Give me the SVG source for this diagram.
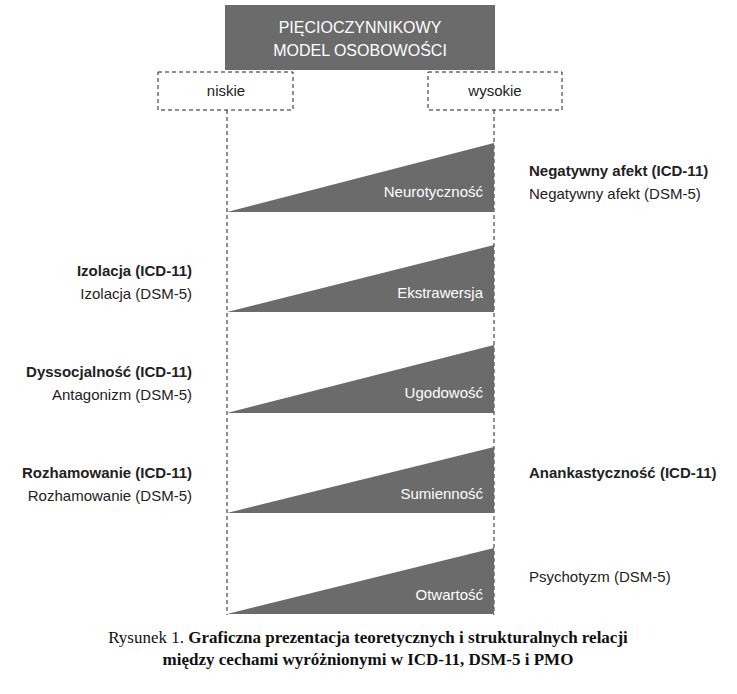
<svg xmlns="http://www.w3.org/2000/svg" width="737" height="694" viewBox="0 0 737 694">
<style>
.t{font-family:"Liberation Sans",Arial,sans-serif;font-size:15px;fill:#222}
.b{font-weight:bold}
.w{fill:#fff}
.tri{fill:#6b6b6b}
.d{fill:none;stroke:#222;stroke-width:1;stroke-dasharray:4,3}
.c{font-family:"Liberation Serif","Times New Roman",serif;font-size:17px;fill:#111}
</style>
<rect width="737" height="694" fill="#fff"/>
<g id="model">
<rect x="225" y="5" width="270" height="65" fill="#6b6b6b"/>
<text class="t w" x="360" y="33" text-anchor="middle" style="font-size:16px">PIĘCIOCZYNNIKOWY</text>
<text class="t w" x="360" y="56" text-anchor="middle" style="font-size:16px">MODEL OSOBOWOŚCI</text>
</g>
<g id="niskie"><rect class="d" x="158" y="72" width="135" height="38"/><text class="t" x="226" y="96" text-anchor="middle">niskie</text></g>
<g id="wysokie"><rect class="d" x="428" y="72" width="134" height="38"/><text class="t" x="495" y="96" text-anchor="middle">wysokie</text></g>
<g id="connectors">
<line class="d" x1="227" y1="110" x2="227" y2="615"/>
<line class="d" x1="494" y1="110" x2="494" y2="615"/>
</g>
<g id="neurotycznosc"><polygon class="tri" points="227,212 494,143 494,212"/><text class="t w" x="483" y="197" text-anchor="end">Neurotyczność</text></g>
<g id="ekstrawersja"><polygon class="tri" points="227,312 494,245 494,312"/><text class="t w" x="483" y="298" text-anchor="end">Ekstrawersja</text></g>
<g id="ugodowosc"><polygon class="tri" points="227,413 494,345 494,413"/><text class="t w" x="483" y="398" text-anchor="end">Ugodowość</text></g>
<g id="sumiennosc"><polygon class="tri" points="227,513 494,447 494,513"/><text class="t w" x="483" y="499" text-anchor="end">Sumienność</text></g>
<g id="otwartosc"><polygon class="tri" points="227,614 494,548 494,614"/><text class="t w" x="483" y="600" text-anchor="end">Otwartość</text></g>
<g id="labels">
<text class="t b" x="529" y="176">Negatywny afekt (ICD-11)</text>
<text class="t" x="529" y="199">Negatywny afekt (DSM-5)</text>
<text class="t b" x="192" y="276" text-anchor="end">Izolacja (ICD-11)</text>
<text class="t" x="192" y="299" text-anchor="end">Izolacja (DSM-5)</text>
<text class="t b" x="192" y="377" text-anchor="end">Dyssocjalność (ICD-11)</text>
<text class="t" x="192" y="400" text-anchor="end">Antagonizm (DSM-5)</text>
<text class="t b" x="192" y="478" text-anchor="end">Rozhamowanie (ICD-11)</text>
<text class="t" x="192" y="501" text-anchor="end">Rozhamowanie (DSM-5)</text>
<text class="t b" x="529" y="478">Anankastyczność (ICD-11)</text>
<text class="t" x="529" y="582">Psychotyzm (DSM-5)</text>
</g>
<text class="c" x="368" y="643" text-anchor="middle">Rysunek 1. <tspan font-weight="bold">Graficzna prezentacja teoretycznych i strukturalnych relacji</tspan></text>
<text class="c" x="368" y="665" text-anchor="middle" font-weight="bold">między cechami wyróżnionymi w ICD-11, DSM-5 i PMO</text>
</svg>
